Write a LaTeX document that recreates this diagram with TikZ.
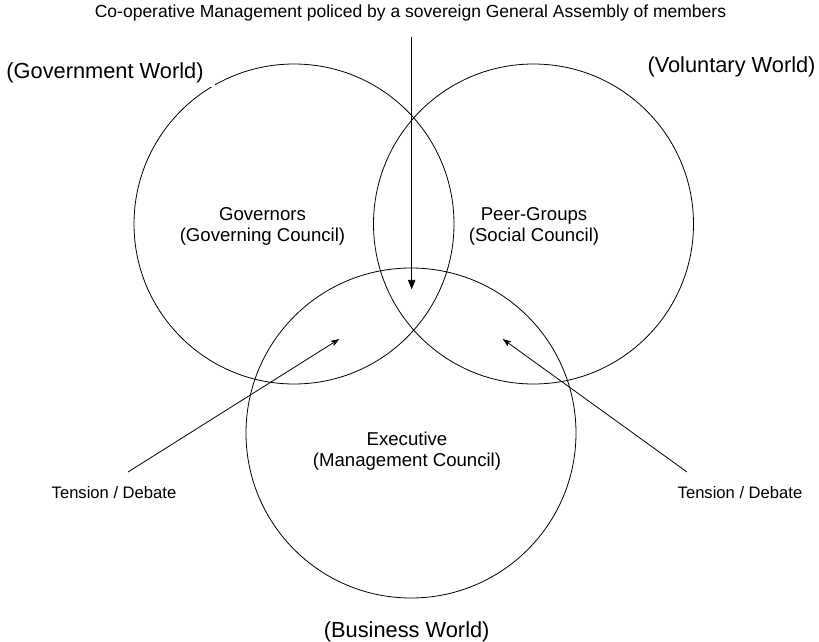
\documentclass[tikz,border=0pt]{standalone}
\usepackage{fontspec}
\setmainfont{Liberation Sans}
\usetikzlibrary{arrows.meta}
\begin{document}
\begin{tikzpicture}[x=1pt,y=-1pt,
  world/.style={circle,draw,line width=0.8pt,inner sep=0pt,minimum size=#1},
  lbl/.style={inner sep=0pt,align=center},
  big/.style={lbl,font=\fontsize{21.8}{26}\selectfont},
  mid/.style={lbl,font=\fontsize{18.6}{21}\selectfont},
  small/.style={lbl,font=\fontsize{16.6}{20}\selectfont},
  bigarrow/.style={line width=0.9pt,-{Triangle[length=9.5pt,width=7.5pt]}},
  smallarrow/.style={line width=0.8pt,-{Stealth[length=8.5pt,width=6pt,inset=2pt]}}]
\useasboundingbox (0,0) rectangle (819,642);
% circles
\node[world=320pt] (gov) at (294,224) {};
\node[world=320pt] (vol) at (533.5,224) {};
\node[world=330pt] (bus) at (411,433) {};
% labels
\node[lbl,font=\fontsize{17.5}{21}\selectfont] (title) at (410.5,12.8)
  {Co-operative Management policed by a sovereign General Assembly of members};
\node[big,fill=white,inner xsep=11pt,inner ysep=4pt] (govw) at (105,72.7) {(Government World)};
\node[big] (volw) at (731.5,66.5) {(Voluntary World)};
\node[big] (busw) at (406.7,631.7) {(Business World)};
\node[mid] (govc) at (262.5,226.5) {Governors\\(Governing Council)};
\node[mid] (volc) at (534,226.5) {Peer-Groups\\(Social Council)};
\node[mid] (busc) at (407,451.5) {Executive\\(Management Council)};
\node[small] (tensl) at (114,492.4) {Tension / Debate};
\node[small] (tensr) at (740,492.4) {Tension / Debate};
% arrows
\coordinate (topstart) at (411.7,37);
\coordinate (centre) at (411.7,289.3);
\coordinate (lstart) at (128,472);
\coordinate (ltip) at (339.3,339);
\coordinate (rstart) at (687,472);
\coordinate (rtip) at (502.7,339);
\draw[bigarrow] (topstart) -- (centre);
\draw[smallarrow] (lstart) -- (ltip);
\draw[smallarrow] (rstart) -- (rtip);
\end{tikzpicture}
\end{document}
